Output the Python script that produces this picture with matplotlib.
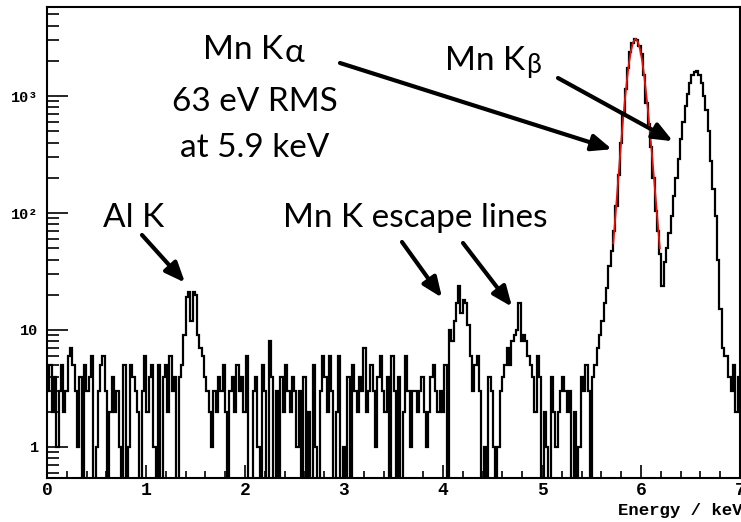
import numpy as np
import matplotlib
matplotlib.use("Agg")
import matplotlib.pyplot as plt
from matplotlib.ticker import FixedLocator, LogLocator, MultipleLocator, NullFormatter

W, H = 741, 522

# ---- spectrum, 300 bins from 0 to 7 keV (counts) ----
e_lo, e_hi, n_bins = 0.0, 7.0, 300

# bins 0-56, background below Al K
bg_low = [3, 5, 2, 4, 1, 3, 5, 2, 3, 6,
          7, 5, 3, 1, 4, 0, 5, 3, 4, 6,
          0, 1, 3, 5, 6, 3, 0, 2, 4, 2,
          3, 1, 0, 5, 0, 1, 5, 4, 3, 2,
          0, 3, 6, 2, 4, 5, 1, 0, 5, 0,
          4, 5, 2, 6, 3, 4, 0]
# bins 57-71, Al K line
al_k = [4, 5, 9, 19, 21, 12, 21, 20, 9, 7, 6, 4, 3, 2, 1]
# bins 72-172
bg_mid = [3, 2, 4, 3, 5, 2, 0, 3,
          4, 2, 5, 3, 4, 2, 6, 0, 0, 3,
          4, 1, 0, 5, 3, 0, 8, 4, 0, 3,
          0, 4, 2, 5, 3, 2, 4, 3, 1, 3,
          0, 4, 0, 2, 0, 5, 1, 0, 3, 6,
          4, 2, 6, 3, 0, 2, 6, 0, 1, 0,
          4, 0, 5, 3, 2, 4, 3, 7, 2, 3,
          5, 3, 1, 4, 6, 3, 2, 4, 0, 6,
          3, 0, 4, 0, 2, 6, 3, 1, 3, 3,
          2, 3, 4, 2, 1, 2, 4, 5, 3, 2, 3, 2, 5]
# bins 173-216, Mn K escape lines
escape = [0, 10, 8, 12, 17, 24, 14, 18, 17, 11,
          6, 3, 5, 6, 3, 0, 1, 0, 4, 3,
          1, 0, 1, 3, 4, 5, 7, 5, 8, 9,
          10, 17, 8, 9, 8, 6, 5, 4, 2, 6,
          4, 0, 2, 1]
# bins 217-235
bg_high = [0, 4, 2, 1, 2, 3, 4, 3, 2, 3, 0, 2, 0, 1, 4, 3, 5, 3, 0]
# bins 236-299, Mn K alpha and K beta
mn_peaks = [4, 5, 7, 9, 12, 17, 23, 35, 47, 70,
            115, 210, 400, 720, 1150, 1750, 2400, 2850, 3100, 3000,
            2700, 2300, 1500, 880, 580, 370, 200, 105, 70, 45,
            24, 38, 50, 68, 95, 140, 200, 290, 430, 600,
            820, 1050, 1300, 1500, 1620, 1640, 1520, 1300, 1000, 760,
            500, 280, 160, 95, 40, 15, 7, 6, 6, 4,
            3, 5, 2, 4]

# gaussian fit on K alpha (red)
fit_energy = [5.72, 5.74, 5.76, 5.78, 5.80, 5.82, 5.84, 5.86, 5.88, 5.90,
              5.92, 5.945, 5.97, 5.99, 6.01, 6.03, 6.05, 6.07, 6.09, 6.11,
              6.13, 6.15, 6.17, 6.19]
fit_counts = [55, 91, 151, 251, 407, 646, 977, 1413, 1950, 2455,
              2884, 3090, 2884, 2512, 2042, 1549, 1096, 759, 501, 324,
              204, 129, 81, 50]

x_ticks = [0, 1, 2, 3, 4, 5, 6, 7]
y_ticks = [1, 10, 100, 1000]
y_tick_labels = ['1', '10', '10\u00b2', '10\u00b3']

counts = np.array(bg_low + al_k + bg_mid + escape + bg_high + mn_peaks, dtype=float)
edges = np.linspace(e_lo, e_hi, n_bins + 1)

fig = plt.figure(figsize=(W / 100, H / 100), dpi=100)
ax = fig.add_axes([47 / W, 1 - 478 / H, 693 / W, 471 / H])

# empty bins drop to the bottom of the log axis
ax.stairs(np.where(counts > 0, counts, 1e-3), edges, color='black', lw=1.6, baseline=None)
ax.plot(fit_energy, fit_counts, color='#e3120b', lw=1.3)

ax.set_yscale('log')
ax.set_xlim(e_lo, e_hi)
ax.set_ylim(0.543, 5770)

ax.set_xticks(x_ticks)
ax.set_xticklabels([str(t) for t in x_ticks], fontfamily='Liberation Mono',
                   fontweight='bold', fontsize=13)
ax.xaxis.set_minor_locator(MultipleLocator(0.2))
ax.yaxis.set_major_locator(FixedLocator(y_ticks))
ax.set_yticklabels(y_tick_labels, fontfamily='Liberation Mono', fontweight='bold', fontsize=11)
ax.yaxis.set_minor_locator(LogLocator(base=10, subs=np.arange(2, 10)))
ax.yaxis.set_minor_formatter(NullFormatter())

ax.tick_params(axis='both', which='both', direction='in', top=False, right=False, width=1.2)
ax.tick_params(axis='x', which='major', length=9.4, pad=3)
ax.tick_params(axis='x', which='minor', length=5)
ax.tick_params(axis='y', which='major', length=15, pad=6)
ax.tick_params(axis='y', which='minor', length=8.6)
for s in ax.spines.values():
    s.set_linewidth(1.5)

fig.text(743 / W, 1 - 515 / H, 'Energy / keV', ha='right', va='baseline',
         fontfamily='Liberation Mono', fontweight='bold', fontsize=12.5)

# ---- annotations ----
fam = ['Lato', 'Noto Sans', 'DejaVu Sans']
fs = 24


def label(x, y, s, ha='left', size=fs):
    return fig.text(x / W, 1 - y / H, s, ha=ha, va='baseline', fontsize=size, family=fam)


def arrow(tip, tail):
    ax.annotate('', xy=tip, xycoords='data', xytext=(tail[0], H - tail[1]),
                textcoords='figure pixels',
                arrowprops=dict(arrowstyle='-|>,head_length=1.2,head_width=0.5',
                                lw=3, color='black', mutation_scale=10,
                                shrinkA=0, shrinkB=0))


renderer = fig.canvas.get_renderer()
t = label(203, 59, 'Mn K')
bb = t.get_window_extent(renderer)
fig.text(bb.x1 / W + 1 / W, 1 - 62 / H, '\u03b1', ha='left', va='baseline', fontsize=fs, family=fam)
label(255, 111, '63 eV RMS', ha='center')
label(255, 157, 'at 5.9 keV', ha='center')

t = label(445, 70, 'Mn K')
bb = t.get_window_extent(renderer)
fig.text(bb.x1 / W + 1 / W, 1 - 73 / H, '\u03b2', ha='left', va='baseline', fontsize=fs * 0.8, family=fam)

label(103, 227, 'Al K')
label(283, 227, 'Mn K escape lines')

arrow((1.394, 25.4), (142, 235))
arrow((3.99, 18.9), (402, 242))
arrow((4.697, 15.8), (463, 243))
arrow((5.707, 351), (340, 63))
arrow((6.323, 411), (558, 78))

fig.savefig('out.png', dpi=100)
